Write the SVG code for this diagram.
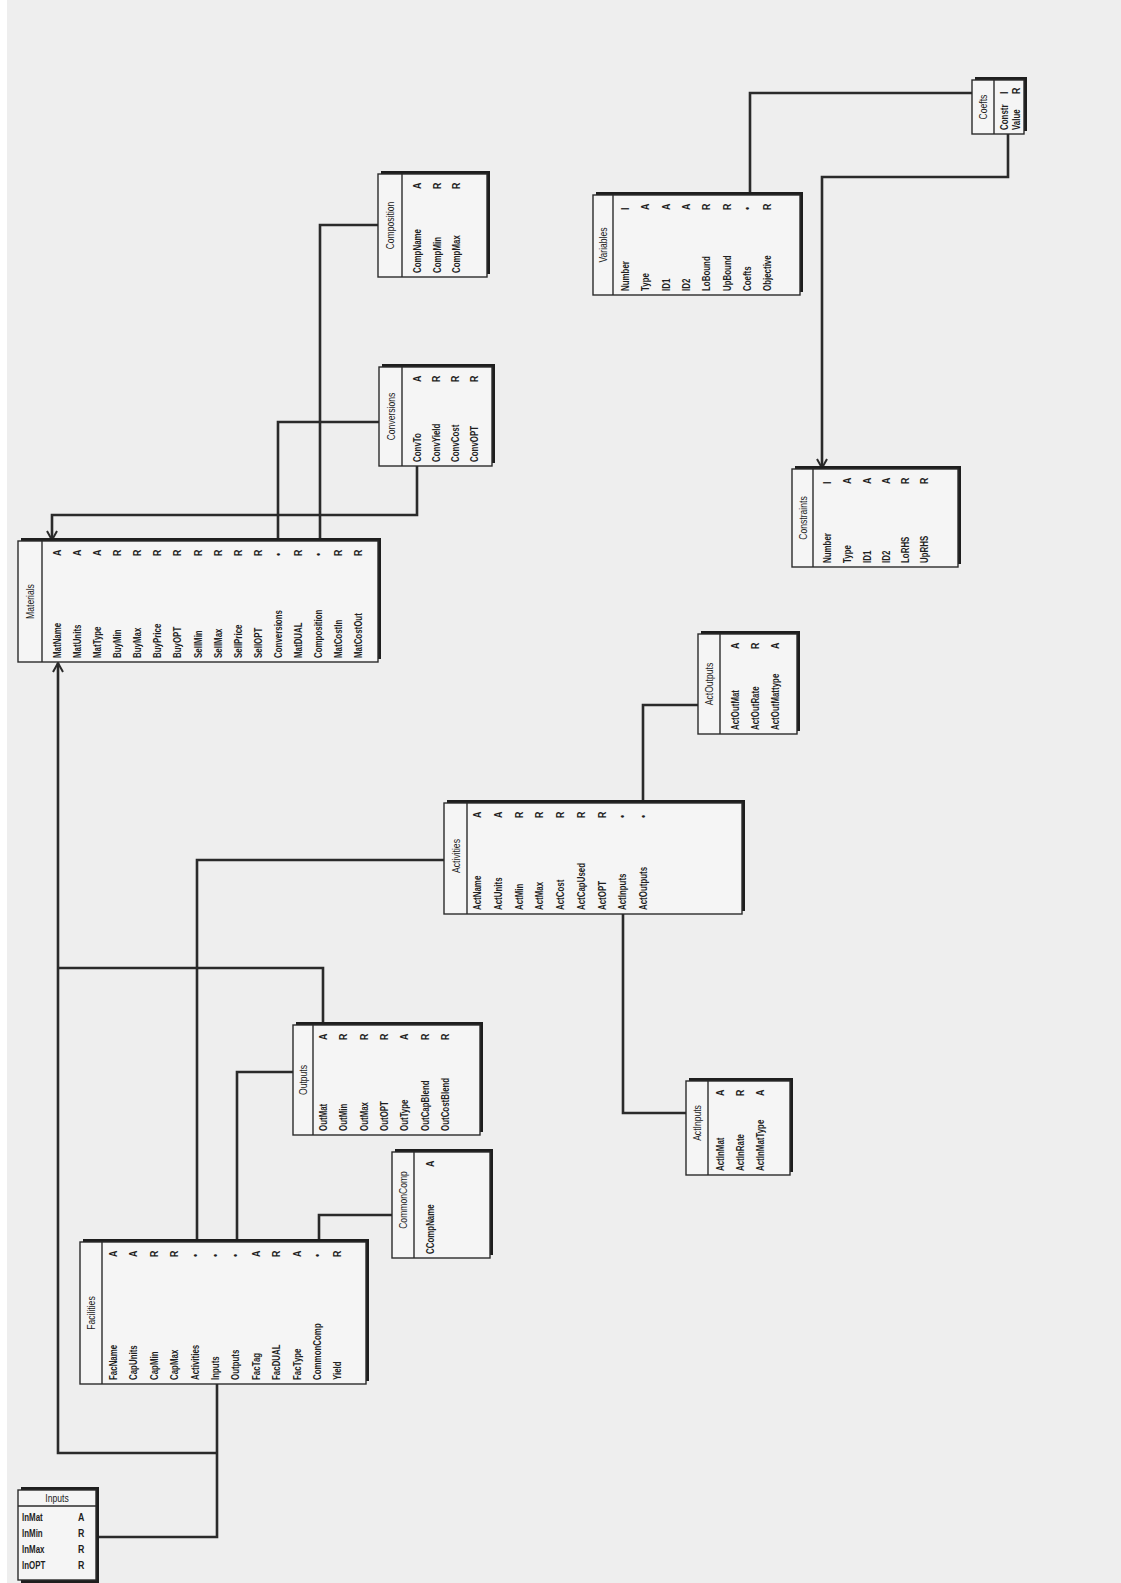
<svg xmlns="http://www.w3.org/2000/svg" width="1121" height="1583" viewBox="0 0 1121 1583">
<defs>
<style>
.bg{fill:#eeeeee}
.sh{fill:#1e1e1e}
.bx{fill:#f5f5f5;stroke:#2b2b2b;stroke-width:1.4}
.dv{stroke:#2b2b2b;stroke-width:1.4}
.hd{font-family:"Liberation Sans",Arial,sans-serif;font-size:11px;fill:#222;text-anchor:middle}
.f{font-family:"Liberation Sans",Arial,sans-serif;font-size:11px;font-weight:bold;fill:#1e1e1e}
.t{font-family:"Liberation Sans",Arial,sans-serif;font-size:11px;font-weight:bold;fill:#1e1e1e}
.cn{fill:none;stroke:#2a2a2a;stroke-width:2.6}
</style>
<marker id="arr" markerUnits="userSpaceOnUse" markerWidth="12" markerHeight="12" refX="10" refY="6" orient="auto">
<path d="M1,1 L10,6 L1,11" fill="none" stroke="#2a2a2a" stroke-width="2"/>
</marker>
</defs>
<rect class="bg" x="0" y="0" width="1121" height="1583"/>
<rect x="0" y="0" width="7" height="1583" fill="#ffffff"/>

<g id="connectors">
<path class="cn" d="M750,195 V93 H972"/>
<path class="cn" d="M1008,134 V177 H822 V468" marker-end="url(#arr)"/>
<path class="cn" d="M417,466 V515 H52 V540" marker-end="url(#arr)"/>
<path class="cn" d="M278,541 V422 H379"/>
<path class="cn" d="M320,541 V225 H378"/>
<path class="cn" d="M643,803 V705 H698"/>
<path class="cn" d="M623,914 V1113 H686"/>
<path class="cn" d="M197,1242 V860 H444"/>
<path class="cn" d="M237,1242 V1072 H293"/>
<path class="cn" d="M319,1242 V1215 H392"/>
<path class="cn" d="M323,1025 V968 H58"/>
<path class="cn" d="M217,1384 V1537 H96"/>
<path class="cn" d="M217,1453 H58 V663" marker-end="url(#arr)"/>
</g>

<g id="materials" transform="translate(18,662) rotate(-90)">
<rect class="sh" x="3" y="3" width="121" height="360"/>
<rect class="bx" width="121" height="360"/>
<line class="dv" x1="0" y1="24" x2="121" y2="24"/>
<text class="hd" transform="translate(60.5,16) scale(0.78,1)">Materials</text>
<text class="f" transform="translate(4,43) scale(0.72,1)">MatName</text><text class="t" transform="translate(106,43) scale(0.8,1)">A</text>
<text class="f" transform="translate(4,63) scale(0.72,1)">MatUnits</text><text class="t" transform="translate(106,63) scale(0.8,1)">A</text>
<text class="f" transform="translate(4,83) scale(0.72,1)">MatType</text><text class="t" transform="translate(106,83) scale(0.8,1)">A</text>
<text class="f" transform="translate(4,103) scale(0.72,1)">BuyMin</text><text class="t" transform="translate(106,103) scale(0.8,1)">R</text>
<text class="f" transform="translate(4,123) scale(0.72,1)">BuyMax</text><text class="t" transform="translate(106,123) scale(0.8,1)">R</text>
<text class="f" transform="translate(4,143) scale(0.72,1)">BuyPrice</text><text class="t" transform="translate(106,143) scale(0.8,1)">R</text>
<text class="f" transform="translate(4,163) scale(0.72,1)">BuyOPT</text><text class="t" transform="translate(106,163) scale(0.8,1)">R</text>
<text class="f" transform="translate(4,184) scale(0.72,1)">SellMin</text><text class="t" transform="translate(106,184) scale(0.8,1)">R</text>
<text class="f" transform="translate(4,204) scale(0.72,1)">SellMax</text><text class="t" transform="translate(106,204) scale(0.8,1)">R</text>
<text class="f" transform="translate(4,224) scale(0.72,1)">SellPrice</text><text class="t" transform="translate(106,224) scale(0.8,1)">R</text>
<text class="f" transform="translate(4,244) scale(0.72,1)">SellOPT</text><text class="t" transform="translate(106,244) scale(0.8,1)">R</text>
<text class="f" transform="translate(4,264) scale(0.72,1)">Conversions</text><text class="t" transform="translate(106,264) scale(0.8,1)">•</text>
<text class="f" transform="translate(4,284) scale(0.72,1)">MatDUAL</text><text class="t" transform="translate(106,284) scale(0.8,1)">R</text>
<text class="f" transform="translate(4,304) scale(0.72,1)">Composition</text><text class="t" transform="translate(106,304) scale(0.8,1)">•</text>
<text class="f" transform="translate(4,324) scale(0.72,1)">MatCostIn</text><text class="t" transform="translate(106,324) scale(0.8,1)">R</text>
<text class="f" transform="translate(4,344) scale(0.72,1)">MatCostOut</text><text class="t" transform="translate(106,344) scale(0.8,1)">R</text>
</g>

<g id="conversions" transform="translate(379,466) rotate(-90)">
<rect class="sh" x="3" y="3" width="99" height="113"/>
<rect class="bx" width="99" height="113"/>
<line class="dv" x1="0" y1="23" x2="99" y2="23"/>
<text class="hd" transform="translate(49.5,15.5) scale(0.78,1)">Conversions</text>
<text class="f" transform="translate(4,42) scale(0.72,1)">ConvTo</text><text class="t" transform="translate(84,42) scale(0.8,1)">A</text>
<text class="f" transform="translate(4,61) scale(0.72,1)">ConvYield</text><text class="t" transform="translate(84,61) scale(0.8,1)">R</text>
<text class="f" transform="translate(4,80) scale(0.72,1)">ConvCost</text><text class="t" transform="translate(84,80) scale(0.8,1)">R</text>
<text class="f" transform="translate(4,99) scale(0.72,1)">ConvOPT</text><text class="t" transform="translate(84,99) scale(0.8,1)">R</text>
</g>

<g id="composition" transform="translate(378,277) rotate(-90)">
<rect class="sh" x="3" y="3" width="103" height="109"/>
<rect class="bx" width="103" height="109"/>
<line class="dv" x1="0" y1="24" x2="103" y2="24"/>
<text class="hd" transform="translate(51.5,16) scale(0.78,1)">Composition</text>
<text class="f" transform="translate(4,43) scale(0.72,1)">CompName</text><text class="t" transform="translate(88,43) scale(0.8,1)">A</text>
<text class="f" transform="translate(4,63) scale(0.72,1)">CompMin</text><text class="t" transform="translate(88,63) scale(0.8,1)">R</text>
<text class="f" transform="translate(4,82) scale(0.72,1)">CompMax</text><text class="t" transform="translate(88,82) scale(0.8,1)">R</text>
</g>

<g id="coefts" transform="translate(972,134) rotate(-90)">
<rect class="sh" x="3" y="3" width="54" height="52"/>
<rect class="bx" width="54" height="52"/>
<line class="dv" x1="0" y1="22" x2="54" y2="22"/>
<text class="hd" transform="translate(27,15) scale(0.78,1)">Coefts</text>
<text class="f" transform="translate(4,36) scale(0.72,1)">Constr</text><text class="t" transform="translate(40,36) scale(0.8,1)">I</text>
<text class="f" transform="translate(4,48) scale(0.72,1)">Value</text><text class="t" transform="translate(40,48) scale(0.8,1)">R</text>
</g>

<g id="variables" transform="translate(593,295) rotate(-90)">
<rect class="sh" x="3" y="3" width="100" height="207"/>
<rect class="bx" width="100" height="207"/>
<line class="dv" x1="0" y1="20" x2="100" y2="20"/>
<text class="hd" transform="translate(50,14) scale(0.78,1)">Variables</text>
<text class="f" transform="translate(4,36) scale(0.72,1)">Number</text><text class="t" transform="translate(85,36) scale(0.8,1)">I</text>
<text class="f" transform="translate(4,56) scale(0.72,1)">Type</text><text class="t" transform="translate(85,56) scale(0.8,1)">A</text>
<text class="f" transform="translate(4,77) scale(0.72,1)">ID1</text><text class="t" transform="translate(85,77) scale(0.8,1)">A</text>
<text class="f" transform="translate(4,97) scale(0.72,1)">ID2</text><text class="t" transform="translate(85,97) scale(0.8,1)">A</text>
<text class="f" transform="translate(4,117) scale(0.72,1)">LoBound</text><text class="t" transform="translate(85,117) scale(0.8,1)">R</text>
<text class="f" transform="translate(4,138) scale(0.72,1)">UpBound</text><text class="t" transform="translate(85,138) scale(0.8,1)">R</text>
<text class="f" transform="translate(4,158) scale(0.72,1)">Coefts</text><text class="t" transform="translate(85,158) scale(0.8,1)">•</text>
<text class="f" transform="translate(4,178) scale(0.72,1)">Objective</text><text class="t" transform="translate(85,178) scale(0.8,1)">R</text>
</g>

<g id="constraints" transform="translate(792,567) rotate(-90)">
<rect class="sh" x="3" y="3" width="98" height="166"/>
<rect class="bx" width="98" height="166"/>
<line class="dv" x1="0" y1="21" x2="98" y2="21"/>
<text class="hd" transform="translate(49,14.5) scale(0.78,1)">Constraints</text>
<text class="f" transform="translate(4,39) scale(0.72,1)">Number</text><text class="t" transform="translate(83,39) scale(0.8,1)">I</text>
<text class="f" transform="translate(4,59) scale(0.72,1)">Type</text><text class="t" transform="translate(83,59) scale(0.8,1)">A</text>
<text class="f" transform="translate(4,79) scale(0.72,1)">ID1</text><text class="t" transform="translate(83,79) scale(0.8,1)">A</text>
<text class="f" transform="translate(4,98) scale(0.72,1)">ID2</text><text class="t" transform="translate(83,98) scale(0.8,1)">A</text>
<text class="f" transform="translate(4,117) scale(0.72,1)">LoRHS</text><text class="t" transform="translate(83,117) scale(0.8,1)">R</text>
<text class="f" transform="translate(4,136) scale(0.72,1)">UpRHS</text><text class="t" transform="translate(83,136) scale(0.8,1)">R</text>
</g>

<g id="actoutputs" transform="translate(698,734) rotate(-90)">
<rect class="sh" x="3" y="3" width="100" height="99"/>
<rect class="bx" width="100" height="99"/>
<line class="dv" x1="0" y1="22" x2="100" y2="22"/>
<text class="hd" transform="translate(50,15) scale(0.78,1)">ActOutputs</text>
<text class="f" transform="translate(4,41) scale(0.72,1)">ActOutMat</text><text class="t" transform="translate(85,41) scale(0.8,1)">A</text>
<text class="f" transform="translate(4,61) scale(0.72,1)">ActOutRate</text><text class="t" transform="translate(85,61) scale(0.8,1)">R</text>
<text class="f" transform="translate(4,81) scale(0.72,1)">ActOutMattype</text><text class="t" transform="translate(85,81) scale(0.8,1)">A</text>
</g>

<g id="activities" transform="translate(444,914) rotate(-90)">
<rect class="sh" x="3" y="3" width="111" height="298"/>
<rect class="bx" width="111" height="298"/>
<line class="dv" x1="0" y1="23" x2="111" y2="23"/>
<text class="hd" transform="translate(58,15.5) scale(0.78,1)">Activities</text>
<text class="f" transform="translate(4,37) scale(0.72,1)">ActName</text><text class="t" transform="translate(96,37) scale(0.8,1)">A</text>
<text class="f" transform="translate(4,58) scale(0.72,1)">ActUnits</text><text class="t" transform="translate(96,58) scale(0.8,1)">A</text>
<text class="f" transform="translate(4,79) scale(0.72,1)">ActMin</text><text class="t" transform="translate(96,79) scale(0.8,1)">R</text>
<text class="f" transform="translate(4,99) scale(0.72,1)">ActMax</text><text class="t" transform="translate(96,99) scale(0.8,1)">R</text>
<text class="f" transform="translate(4,120) scale(0.72,1)">ActCost</text><text class="t" transform="translate(96,120) scale(0.8,1)">R</text>
<text class="f" transform="translate(4,141) scale(0.72,1)">ActCapUsed</text><text class="t" transform="translate(96,141) scale(0.8,1)">R</text>
<text class="f" transform="translate(4,162) scale(0.72,1)">ActOPT</text><text class="t" transform="translate(96,162) scale(0.8,1)">R</text>
<text class="f" transform="translate(4,182) scale(0.72,1)">ActInputs</text><text class="t" transform="translate(96,182) scale(0.8,1)">•</text>
<text class="f" transform="translate(4,203) scale(0.72,1)">ActOutputs</text><text class="t" transform="translate(96,203) scale(0.8,1)">•</text>
</g>

<g id="actinputs" transform="translate(686,1175) rotate(-90)">
<rect class="sh" x="3" y="3" width="94" height="104"/>
<rect class="bx" width="94" height="104"/>
<line class="dv" x1="0" y1="22" x2="94" y2="22"/>
<text class="hd" transform="translate(52,15) scale(0.78,1)">ActInputs</text>
<text class="f" transform="translate(4,38) scale(0.72,1)">ActInMat</text><text class="t" transform="translate(79,38) scale(0.8,1)">A</text>
<text class="f" transform="translate(4,58) scale(0.72,1)">ActInRate</text><text class="t" transform="translate(79,58) scale(0.8,1)">R</text>
<text class="f" transform="translate(4,78) scale(0.72,1)">ActInMatType</text><text class="t" transform="translate(79,78) scale(0.8,1)">A</text>
</g>

<g id="outputs" transform="translate(293,1135) rotate(-90)">
<rect class="sh" x="3" y="3" width="110" height="187"/>
<rect class="bx" width="110" height="187"/>
<line class="dv" x1="0" y1="20" x2="110" y2="20"/>
<text class="hd" transform="translate(55,14) scale(0.78,1)">Outputs</text>
<text class="f" transform="translate(4,34) scale(0.72,1)">OutMat</text><text class="t" transform="translate(95,34) scale(0.8,1)">A</text>
<text class="f" transform="translate(4,54) scale(0.72,1)">OutMin</text><text class="t" transform="translate(95,54) scale(0.8,1)">R</text>
<text class="f" transform="translate(4,75) scale(0.72,1)">OutMax</text><text class="t" transform="translate(95,75) scale(0.8,1)">R</text>
<text class="f" transform="translate(4,95) scale(0.72,1)">OutOPT</text><text class="t" transform="translate(95,95) scale(0.8,1)">R</text>
<text class="f" transform="translate(4,115) scale(0.72,1)">OutType</text><text class="t" transform="translate(95,115) scale(0.8,1)">A</text>
<text class="f" transform="translate(4,136) scale(0.72,1)">OutCapBlend</text><text class="t" transform="translate(95,136) scale(0.8,1)">R</text>
<text class="f" transform="translate(4,156) scale(0.72,1)">OutCostBlend</text><text class="t" transform="translate(95,156) scale(0.8,1)">R</text>
</g>

<g id="commoncomp" transform="translate(392,1258) rotate(-90)">
<rect class="sh" x="3" y="3" width="106" height="98"/>
<rect class="bx" width="106" height="98"/>
<line class="dv" x1="0" y1="22" x2="106" y2="22"/>
<text class="hd" transform="translate(58,15) scale(0.78,1)">CommonComp</text>
<text class="f" transform="translate(4,42) scale(0.72,1)">CCompName</text><text class="t" transform="translate(91,42) scale(0.8,1)">A</text>
</g>

<g id="facilities" transform="translate(80,1384) rotate(-90)">
<rect class="sh" x="3" y="3" width="142" height="286"/>
<rect class="bx" width="142" height="286"/>
<line class="dv" x1="0" y1="22" x2="142" y2="22"/>
<text class="hd" transform="translate(71,15) scale(0.78,1)">Facilities</text>
<text class="f" transform="translate(4,37) scale(0.72,1)">FacName</text><text class="t" transform="translate(127,37) scale(0.8,1)">A</text>
<text class="f" transform="translate(4,57) scale(0.72,1)">CapUnits</text><text class="t" transform="translate(127,57) scale(0.8,1)">A</text>
<text class="f" transform="translate(4,78) scale(0.72,1)">CapMin</text><text class="t" transform="translate(127,78) scale(0.8,1)">R</text>
<text class="f" transform="translate(4,98) scale(0.72,1)">CapMax</text><text class="t" transform="translate(127,98) scale(0.8,1)">R</text>
<text class="f" transform="translate(4,119) scale(0.72,1)">Activities</text><text class="t" transform="translate(127,119) scale(0.8,1)">•</text>
<text class="f" transform="translate(4,139) scale(0.72,1)">Inputs</text><text class="t" transform="translate(127,139) scale(0.8,1)">•</text>
<text class="f" transform="translate(4,159) scale(0.72,1)">Outputs</text><text class="t" transform="translate(127,159) scale(0.8,1)">•</text>
<text class="f" transform="translate(4,180) scale(0.72,1)">FacTag</text><text class="t" transform="translate(127,180) scale(0.8,1)">A</text>
<text class="f" transform="translate(4,200) scale(0.72,1)">FacDUAL</text><text class="t" transform="translate(127,200) scale(0.8,1)">R</text>
<text class="f" transform="translate(4,221) scale(0.72,1)">FacType</text><text class="t" transform="translate(127,221) scale(0.8,1)">A</text>
<text class="f" transform="translate(4,241) scale(0.72,1)">CommonComp</text><text class="t" transform="translate(127,241) scale(0.8,1)">•</text>
<text class="f" transform="translate(4,261) scale(0.72,1)">Yield</text><text class="t" transform="translate(127,261) scale(0.8,1)">R</text>
</g>

<g id="inputs">
<rect class="sh" x="21" y="1487" width="78" height="96"/>
<rect class="bx" x="18" y="1490" width="78" height="90"/>
<line class="dv" x1="18" y1="1506" x2="96" y2="1506"/>
<text class="hd" transform="translate(57,1502) scale(0.78,1)">Inputs</text>
<text class="f" transform="translate(22,1521) scale(0.72,1)">InMat</text><text class="t" transform="translate(78,1521) scale(0.8,1)">A</text>
<text class="f" transform="translate(22,1537) scale(0.72,1)">InMin</text><text class="t" transform="translate(78,1537) scale(0.8,1)">R</text>
<text class="f" transform="translate(22,1553) scale(0.72,1)">InMax</text><text class="t" transform="translate(78,1553) scale(0.8,1)">R</text>
<text class="f" transform="translate(22,1569) scale(0.72,1)">InOPT</text><text class="t" transform="translate(78,1569) scale(0.8,1)">R</text>
</g>
</svg>
